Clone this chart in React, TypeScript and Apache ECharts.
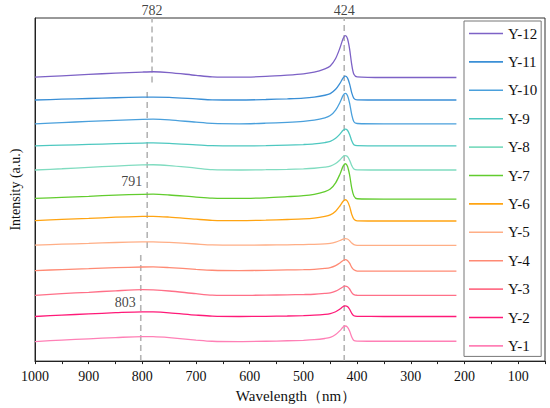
import React, { useEffect, useRef } from "react";
import * as echarts from "echarts";

const wavelengths = [1000, 950, 900, 850, 800, 780, 750, 700, 670, 620, 570, 530, 500, 480, 460, 450, 440, 432, 426, 422, 418, 414, 410, 406, 400, 350, 300, 250, 215];

const seriesNames = ["Y-1", "Y-2", "Y-3", "Y-4", "Y-5", "Y-6", "Y-7", "Y-8", "Y-9", "Y-10", "Y-11", "Y-12"];
const seriesColors = ["#ff80b6", "#ff1a78", "#ff7088", "#ff8a74", "#ffae86", "#ffa412", "#62cc2e", "#80dcc0", "#4ec8c0", "#4aa0dc", "#3a8fd6", "#7d62c6"];

const y1 = [19.7, 21.2, 22.5, 23.7, 24.7, 24.6, 23.6, 21.2, 20.0, 19.7, 20.0, 20.5, 21.0, 21.6, 22.8, 23.9, 26.8, 30.7, 34.3, 35.4, 34.3, 30.4, 24.4, 20.8, 20.2, 20, 20, 20, 20];
const y2 = [45, 46.4, 47.6, 48.8, 49.7, 49.6, 48.7, 46.4, 45.3, 45, 45.2, 45.5, 45.9, 46.3, 47.1, 47.9, 49.8, 52.5, 55.0, 55.7, 55.0, 52.3, 48.2, 45.7, 45.1, 45, 45, 45, 45];
const y3 = [66.3, 68.0, 69.4, 70.9, 72.0, 71.8, 70.7, 68.0, 66.6, 66.3, 66.5, 66.8, 67.1, 67.4, 68.2, 68.8, 70.5, 72.9, 75.0, 75.7, 75.0, 72.7, 69.1, 67.0, 66.4, 66.3, 66.3, 66.3, 66.3];
const y4 = [91.3, 92.3, 93.2, 94.2, 94.9, 95.0, 94.3, 92.5, 91.6, 91.3, 91.5, 91.9, 92.2, 92.6, 93.5, 94.3, 96.3, 99.0, 101.5, 102.3, 101.5, 98.8, 94.6, 92.1, 90.8, 90.7, 90.7, 90.7, 90.7];
const y5 = [117, 117.9, 118.7, 119.6, 120.2, 120.3, 119.7, 118.1, 117.2, 117, 117.1, 117.3, 117.5, 117.8, 118.3, 118.8, 120.0, 121.6, 123.1, 123.6, 123.1, 121.5, 119.0, 117.5, 116.8, 116.7, 116.7, 116.7, 116.7];
const y6 = [141.7, 142.9, 143.9, 145.1, 145.9, 146.0, 145.2, 143.1, 142.0, 141.7, 142.1, 142.8, 143.4, 144.2, 145.9, 147.4, 151.2, 156.4, 161.2, 162.7, 161.2, 156.0, 148.0, 143.2, 141.5, 141.3, 141.3, 141.3, 141.3];
const y7 = [164, 165.2, 166.2, 167.4, 168.2, 168.3, 167.5, 165.4, 164.3, 164, 164.7, 165.8, 166.8, 168.2, 171, 173.5, 179.8, 188.5, 196.6, 199, 196.6, 187.8, 174.5, 166.5, 163.7, 163.3, 163.3, 163.3, 163.3];
const y8 = [192.7, 194.0, 195.4, 196.7, 197.8, 198.0, 197.2, 194.6, 193.1, 192.7, 193.0, 193.4, 193.9, 194.5, 195.6, 196.6, 199.3, 202.9, 206.3, 207.3, 206.3, 202.6, 197.1, 193.7, 192.8, 192.7, 192.7, 192.7, 192.7];
const y9 = [217, 217.8, 218.5, 219.3, 219.9, 220, 219.6, 218.1, 217.2, 217, 217.3, 217.9, 218.4, 219.0, 220.4, 221.6, 224.7, 228.9, 232.8, 234, 232.8, 228.6, 222.1, 218.2, 217.2, 217, 217, 217, 217];
const y10 = [239.3, 240.5, 241.7, 242.8, 243.8, 244.0, 243.3, 240.9, 239.7, 239.3, 239.9, 240.8, 241.8, 243.0, 245.4, 247.6, 253.1, 260.8, 267.9, 270.0, 267.9, 260.2, 248.5, 241.4, 239.6, 239.3, 239.3, 239.3, 239.3];
const y11 = [263.3, 264.1, 264.8, 265.6, 266.2, 266.3, 265.9, 264.4, 263.5, 263.3, 263.8, 264.5, 265.2, 266.2, 268.1, 269.8, 274.1, 280.1, 285.6, 287.3, 285.6, 279.6, 270.5, 265.0, 263.5, 263.3, 263.3, 263.3, 263.3];
const y12 = [286.3, 287.7, 289.1, 290.4, 291.5, 291.8, 291.0, 288.2, 286.7, 286.3, 287.1, 288.4, 289.7, 291.3, 294.7, 297.6, 305.2, 315.7, 325.4, 328.3, 325.4, 314.9, 298.9, 289.2, 286.7, 286.0, 286.0, 286.0, 286.0];

const seriesValues = [y1, y2, y3, y4, y5, y6, y7, y8, y9, y10, y11, y12];

// dashed guide lines: [wavelength, from, to]
const guideLines = [
  [424, 0, 346],
  [782, 281, 346],
  [791, 114, 274],
  [803, 0, 109],
];

// peak annotations: [wavelength, value, text, position]
const peakLabels: [number, number, string, string][] = [
  [782, 346, "782", "top"],
  [424, 346, "424", "top"],
  [791, 181, "791", "left"],
  [803, 59, "803", "left"],
];

const xTickValues = [1000, 900, 800, 700, 600, 500, 400, 300, 200, 100];

const FONT = "Liberation Serif";

export default function App() {
  const ref = useRef<HTMLDivElement>(null);
  useEffect(() => {
    if (!ref.current) return;
    const chart = echarts.init(ref.current, null, { renderer: "svg" });
    const lineSeries = seriesNames.map((name, i) => ({
      name,
      type: "line",
      data: wavelengths.map((w, j) => [w, seriesValues[i][j]]),
      symbol: "none",
      smooth: 0.3,
      lineStyle: { color: seriesColors[i], width: 1.3 },
      itemStyle: { color: seriesColors[i] },
      z: 3,
    }));
    const dashSeries = guideLines.map((g, i) => ({
      name: "guide" + i,
      type: "line",
      data: [
        [g[0], g[1]],
        [g[0], g[2]],
      ],
      symbol: "none",
      silent: true,
      lineStyle: { color: "#b4b4b4", width: 1.6, type: [6, 4] },
      z: 2,
    }));
    const labelSeries = {
      name: "labels",
      type: "scatter",
      symbolSize: 0,
      silent: true,
      clip: false,
      data: peakLabels.map((p) => ({
        value: [p[0], p[1]],
        label: {
          show: true,
          formatter: p[2],
          position: p[3],
          distance: p[3] === "top" ? 1 : 5,
          fontFamily: FONT,
          fontSize: 14,
          color: "#111",
        },
      })),
      z: 5,
    };
    chart.setOption({
      animation: false,
      backgroundColor: "#fff",
      textStyle: { fontFamily: FONT },
      grid: {
        left: 32,
        right: 5,
        top: 18,
        bottom: 44,
        show: true,
        borderColor: "#333",
        borderWidth: 1,
        backgroundColor: "transparent",
      },
      legend: {
        data: seriesNames.slice().reverse(),
        orient: "vertical",
        left: 464,
        top: 21,
        icon: "rect",
        itemWidth: 34,
        itemHeight: 1.6,
        itemGap: 13.4,
        padding: [5, 4, 3, 5],
        borderColor: "#777",
        borderWidth: 1,
        textStyle: { fontFamily: FONT, fontSize: 15, color: "#111" },
      },
      xAxis: {
        type: "value",
        min: 50,
        max: 1000,
        interval: 50,
        inverse: true,
        name: "Wavelength（nm）",
        nameLocation: "middle",
        nameGap: 24,
        nameTextStyle: { fontFamily: FONT, fontSize: 15, color: "#111", padding: [0, 0, 0, 12] },
        axisLine: { show: true, onZero: false, lineStyle: { color: "#222", width: 1 } },
        axisTick: { show: true, inside: false, length: 3, lineStyle: { color: "#222" } },
        axisLabel: {
          margin: 8,
          fontFamily: FONT,
          fontSize: 14,
          color: "#111",
          formatter: (v: number) => (xTickValues.indexOf(v) >= 0 ? String(v) : ""),
        },
        splitLine: { show: false },
      },
      yAxis: {
        type: "value",
        min: 0,
        max: 346,
        name: "Intensity (a.u.)",
        nameLocation: "middle",
        nameGap: 13,
        nameTextStyle: { fontFamily: FONT, fontSize: 14, color: "#111" },
        axisLine: { show: true, lineStyle: { color: "#222", width: 1 } },
        axisTick: { show: false },
        axisLabel: { show: false },
        splitLine: { show: false },
      },
      series: [...dashSeries, ...lineSeries, labelSeries],
    });
    return () => chart.dispose();
  }, []);
  return <div ref={ref} style={{ position: "fixed", left: 0, top: 0, width: 550, height: 408 }} />;
}
